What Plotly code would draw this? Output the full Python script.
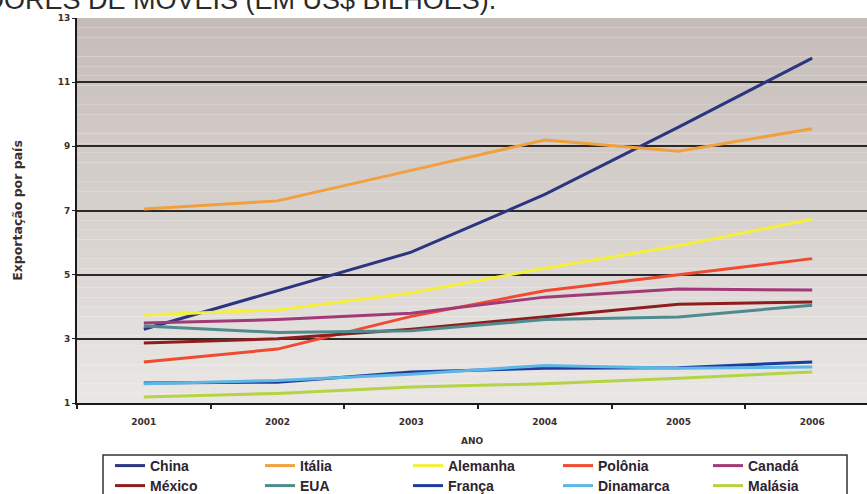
import plotly.graph_objects as go

years = ["2001", "2002", "2003", "2004", "2005", "2006"]
y_ticks = [1, 3, 5, 7, 9, 11, 13]

china = [3.3, 4.5, 5.7, 7.5, 9.6, 11.75]
italia = [7.05, 7.3, 8.25, 9.2, 8.85, 9.55]
alemanha = [3.74, 3.9, 4.43, 5.2, 5.9, 6.73]
polonia = [2.28, 2.68, 3.7, 4.5, 5.0, 5.5]
canada = [3.49, 3.6, 3.8, 4.3, 4.55, 4.52]
mexico = [2.87, 3.0, 3.3, 3.7, 4.08, 4.15]
eua = [3.4, 3.2, 3.25, 3.6, 3.68, 4.05]
franca = [1.62, 1.65, 1.97, 2.08, 2.1, 2.28]
dinamarca = [1.6, 1.7, 1.9, 2.17, 2.08, 2.12]
malasia = [1.19, 1.3, 1.5, 1.6, 1.77, 1.97]

names = ["China", "Itália", "Alemanha", "Polônia", "Canadá",
         "México", "EUA", "França", "Dinamarca", "Malásia"]
series = [china, italia, alemanha, polonia, canada,
          mexico, eua, franca, dinamarca, malasia]
colors = ["#2b3580", "#f0a03c", "#f4ee3c", "#f04a30", "#a23a78",
          "#8e1e1e", "#4f8a8e", "#1e3ca0", "#5cb6e6", "#b4d444"]

W, H = 867, 494
L, T, B = 77, 18, 403


def px_x(p):
    return (p - L) / (W - L)


def px_y(p):
    return (B - p) / (B - T)


# legend entry layout (pixel position of the label text start / row centre)
leg_text_x = [150, 300, 448, 598, 748]
leg_row_y = [466, 486]

legend_font = dict(family="Liberation Sans, Arial, sans-serif", size=14,
                   color="#2c2430", weight="bold")

fig = go.Figure()
legends = {}
for i, (n, s, c) in enumerate(zip(names, series, colors)):
    key = "legend" if i == 0 else "legend%d" % (i + 1)
    fig.add_trace(go.Scatter(x=years, y=s, name=n, mode="lines",
                             line=dict(color=c, width=3), legend=key))
    col, row = i % 5, i // 5
    legends[key] = dict(x=px_x(leg_text_x[col] - 40), xanchor="left",
                        y=px_y(leg_row_y[row]), yanchor="middle",
                        bgcolor="rgba(0,0,0,0)", borderwidth=0,
                        font=legend_font)

# background gradient bands for the plot area
shapes = []
nb = 40
top_c = (198, 189, 186)
bot_c = (233, 230, 227)
for i in range(nb):
    f = i / (nb - 1)
    col = tuple(round(top_c[k] + (bot_c[k] - top_c[k]) * f) for k in range(3))
    shapes.append(dict(type="rect", xref="paper", yref="paper",
                       x0=0, x1=1, y0=1 - (i + 1) / nb, y1=1 - i / nb,
                       fillcolor="rgb(%d,%d,%d)" % col, line=dict(width=0),
                       layer="below"))
# legend frame
shapes.append(dict(type="rect", xref="paper", yref="paper",
                   x0=px_x(103), x1=px_x(847), y0=px_y(455), y1=px_y(505),
                   line=dict(color="#333333", width=1.5),
                   fillcolor="rgba(0,0,0,0)"))

tick_font = dict(family="DejaVu Sans, sans-serif", size=9,
                 color="#3a2e2e", weight="bold")

fig.update_layout(
    width=W, height=H,
    margin=dict(l=L, r=0, t=T, b=H - B, autoexpand=False),
    paper_bgcolor="white",
    plot_bgcolor="rgba(0,0,0,0)",
    shapes=shapes,
    showlegend=True,
    xaxis=dict(type="category", range=[-0.5, 5.41],
               tickson="boundaries", ticks="outside", ticklen=4,
               tickcolor="#222", tickwidth=1.5,
               showline=True, linecolor="#1a1a1a", linewidth=2,
               showgrid=False, tickfont=tick_font, ticklabelstandoff=9,
               title=dict(text="ANO", font=tick_font, standoff=12)),
    yaxis=dict(range=[1, 13], tickvals=y_ticks, ticks="outside", ticklen=3,
               tickcolor="#222",
               showline=True, linecolor="#1a1a1a", linewidth=2,
               showgrid=True, gridcolor="#2a2a2a", gridwidth=1.5,
               zeroline=False, tickfont=tick_font,
               title=dict(text="Exportação por país",
                          font=dict(family="DejaVu Sans, sans-serif",
                                    size=12.5, color="#3a2e2e", weight="bold"),
                          standoff=32)),
    annotations=[dict(text="EXPORTADORES DE MÓVEIS (EM US$ BILHÕES).",
                      xref="paper", yref="paper", x=px_x(498), y=px_y(17),
                      xanchor="right", yanchor="bottom", showarrow=False,
                      font=dict(family="Liberation Sans, Arial, sans-serif",
                                size=27, color="#2a2a2a"))],
)
fig.update_layout(**legends)

fig.write_html("out.html",
               config={"displayModeBar": False},
               post_script="document.body.style.margin='0';"
                           "document.body.style.overflow='hidden';")
